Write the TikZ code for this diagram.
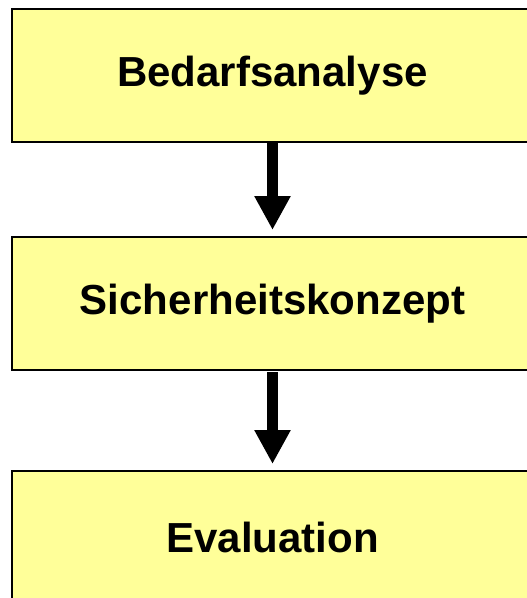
\documentclass[tikz,border=0pt]{standalone}
\usepackage{fontspec}
\setmainfont{Liberation Sans}
\usepackage{xcolor}
\usepackage{tikz}
\usetikzlibrary{arrows.meta}
\usetikzlibrary{positioning}
\definecolor{boxyellow}{RGB}{255,255,153}
\begin{document}
\begin{tikzpicture}[->,>={Triangle[width=34pt,length=34pt]},line width=11pt,shorten >=7pt]
	\tikzstyle{every node}=[rectangle, fill=boxyellow, draw=black, line width=1.5pt, outer sep=0pt,
		minimum width=521pt, minimum height=133pt, font=\fontsize{42}{50}\selectfont\bfseries]
	\useasboundingbox (0,0) rectangle (527pt,-598pt);
	\clip (0,0) rectangle (527pt,-598pt);
	\node (A) at (272.5pt,-75.5pt) {Bedarfsanalyse};
	\node (B) [below=95pt of A] {Sicherheitskonzept};
	\node (C) [below=101pt of B] {Evaluation};
	\path
		(A) edge (B)
		(B) edge [shorten <=2pt] (C);
\end{tikzpicture}
\end{document}
